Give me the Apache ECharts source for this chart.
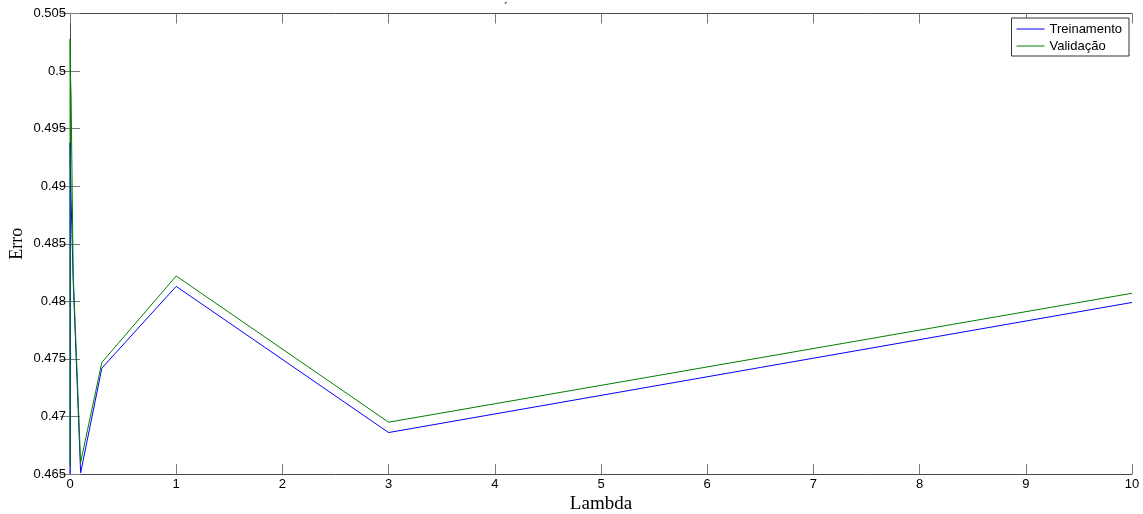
<!DOCTYPE html>
<html>
<head>
<meta charset="utf-8">
<script src="https://cdn.jsdelivr.net/npm/echarts@6/dist/echarts.min.js"></script>
<style>
  html, body { margin: 0; padding: 0; background: #fff; }
  #chart { width: 1143px; height: 514px; }
</style>
</head>
<body>
<div id="chart"></div>
<script>
// Regularisation parameter values and the error obtained for each one
const lambdas = [0, 0.001, 0.003, 0.01, 0.03, 0.1, 0.3, 1, 3, 10];
const trainErr = [0.4650, 0.4938, 0.4925, 0.4890, 0.4818, 0.4651, 0.4742, 0.4813, 0.4686, 0.4799];
const valErr   = [0.4657, 0.5028, 0.5000, 0.4980, 0.4824, 0.4660, 0.4747, 0.4822, 0.4695, 0.4807];

const seriesNames = ['Treinamento', 'Validação'];
const xTicks = { min: 0, max: 10, step: 1 };
const yTicks = { min: 0.465, max: 0.505, step: 0.005 };

const pairs = (ys) => lambdas.map((x, i) => [x, ys[i]]);

const axisColor = '#4a4a4a';
const tickColor = '#7a7a7a';
const sans = 'Liberation Sans, Arial, sans-serif';
const serif = 'Liberation Serif, Times New Roman, serif';

const baseX = {
  type: 'value', min: xTicks.min, max: xTicks.max, interval: xTicks.step,
  splitLine: { show: false },
  axisLine: { show: true, lineStyle: { color: axisColor, width: 1 } },
  axisTick: { show: true, inside: true, length: 10, lineStyle: { color: tickColor } }
};
const baseY = {
  type: 'value', min: yTicks.min, max: yTicks.max, interval: yTicks.step,
  splitLine: { show: false },
  axisLine: { show: true, lineStyle: { color: axisColor, width: 1 } },
  axisTick: { show: true, inside: true, length: 10, lineStyle: { color: tickColor } }
};

const chart = echarts.init(document.getElementById('chart'), null, { renderer: 'canvas' });
chart.setOption({
  animation: false,
  backgroundColor: '#ffffff',
  title: {
    text: '´', left: 499, top: -2,
    textStyle: { fontSize: 12, fontWeight: 'normal', color: '#000', fontFamily: sans }
  },
  grid: { left: 70, right: 11, top: 13.5, bottom: 40, containLabel: false, outerBoundsMode: 'none' },
  legend: {
    data: seriesNames,
    orient: 'vertical',
    right: 14, top: 18,
    padding: [4, 7, 3, 5],
    itemGap: 3,
    itemWidth: 28, itemHeight: 1,
    icon: 'rect',
    borderColor: '#333', borderWidth: 1,
    backgroundColor: '#fff',
    textStyle: { fontSize: 13, color: '#000', fontFamily: sans, lineHeight: 14 }
  },
  xAxis: [
    Object.assign({}, baseX, {
      position: 'bottom',
      name: 'Lambda', nameLocation: 'middle', nameGap: 21, nameMoveOverlap: false,
      nameTextStyle: { fontFamily: serif, fontSize: 19, color: '#000' },
      axisLabel: { show: true, margin: 4, fontSize: 13, color: '#000', fontFamily: sans }
    }),
    Object.assign({}, baseX, { position: 'top', axisLabel: { show: false } })
  ],
  yAxis: [
    Object.assign({}, baseY, {
      position: 'left',
      name: 'Erro', nameLocation: 'middle', nameGap: 44, nameMoveOverlap: false,
      nameTextStyle: { fontFamily: serif, fontSize: 18, color: '#000' },
      axisLabel: {
        show: true, margin: 4, fontSize: 13, color: '#000', fontFamily: sans,
        formatter: (v) => String(+v.toFixed(3))
      }
    }),
    Object.assign({}, baseY, { position: 'right', axisLabel: { show: false } })
  ],
  series: [
    {
      name: seriesNames[0], type: 'line', data: pairs(trainErr),
      showSymbol: false, symbol: 'none', clip: true,
      itemStyle: { color: '#0000ff' },
      lineStyle: { color: '#0000ff', width: 1 }
    },
    {
      name: seriesNames[1], type: 'line', data: pairs(valErr),
      showSymbol: false, symbol: 'none', clip: true,
      itemStyle: { color: '#008000' },
      lineStyle: { color: '#008000', width: 1 }
    }
  ]
});
</script>
</body>
</html>
